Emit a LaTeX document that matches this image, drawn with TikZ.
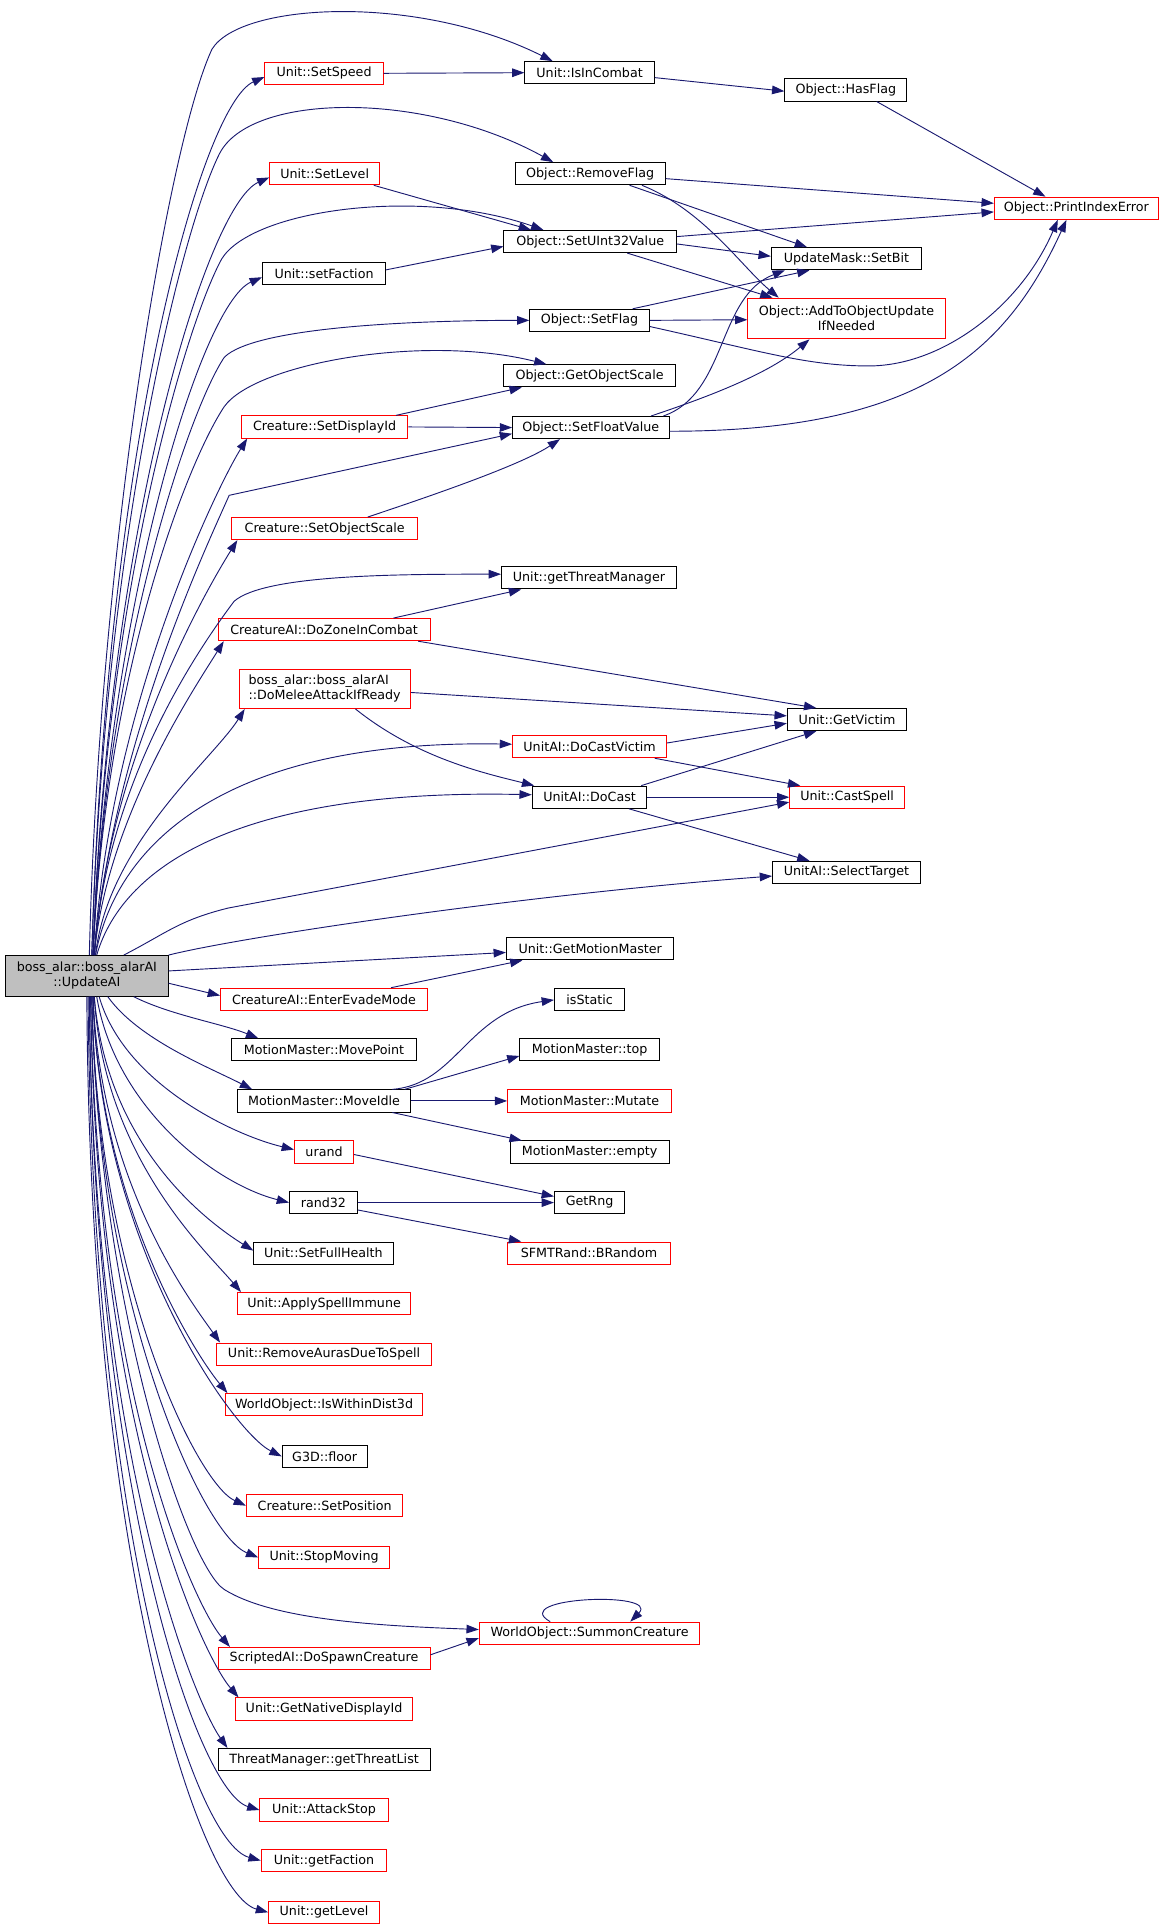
\documentclass[tikz,border=0pt]{standalone}
\usepackage{fontspec}
\setmainfont{DejaVu Sans}
\usetikzlibrary{arrows.meta}
\definecolor{edgeblue}{HTML}{191970}
\definecolor{undocred}{HTML}{FF0000}
\definecolor{focusgray}{HTML}{BFBFBF}

\begin{document}
\begin{tikzpicture}[x=1pt, y=1pt,
  func/.style={rectangle, draw=black, line width=0.8pt, minimum height=18pt, inner xsep=2pt, inner ysep=2pt, font=\fontsize{10.3}{12}\selectfont},
  undoc/.style={func, draw=undocred},
  focus/.style={func, fill=focusgray, align=center},
  arrow/.style={-{Triangle[length=10pt, width=7pt]}, draw=edgeblue, line width=0.75pt}
]
  \useasboundingbox (0,0) rectangle (944.7,-1568);

  % Caller
  \node[focus, minimum width=132pt, minimum height=33pt] (updateai) at (70.5,-792) {boss\_alar::boss\_alarAI\\::UpdateAI};

  % Direct callees
  \node[undoc, minimum width=96pt] (setspeed) at (263,-59.5) {Unit::SetSpeed};
  \node[undoc, minimum width=89pt] (setlevel) at (263.5,-141) {Unit::SetLevel};
  \node[func, minimum width=100pt] (setfaction) at (263,-222) {Unit::setFaction};
  \node[undoc, minimum width=135pt] (setdisplayid) at (263.5,-346.5) {Creature::SetDisplayId};
  \node[undoc, minimum width=151pt] (setobjscale) at (263.5,-429) {Creature::SetObjectScale};
  \node[undoc, minimum width=172pt] (dozone) at (263,-511) {CreatureAI::DoZoneInCombat};
  \node[undoc, minimum width=139pt, minimum height=32pt, align=left] (domelee) at (263.5,-559) {boss\_alar::boss\_alarAI\\::DoMeleeAttackIfReady};
  \node[undoc, minimum width=168pt] (evade) at (263,-811) {CreatureAI::EnterEvadeMode};
  \node[func, minimum width=150pt] (movepoint) at (263,-852) {MotionMaster::MovePoint};
  \node[func, minimum width=140pt] (moveidle) at (263,-893.5) {MotionMaster::MoveIdle};
  \node[undoc, minimum width=48pt] (urand) at (263,-935) {urand};
  \node[func, minimum width=55pt] (rand32) at (262.5,-976) {rand32};
  \node[func, minimum width=113pt] (setfullhealth) at (262.5,-1017) {Unit::SetFullHealth};
  \node[undoc, minimum width=140pt] (applyspell) at (263,-1058) {Unit::ApplySpellImmune};
  \node[undoc, minimum width=174pt] (removeauras) at (263,-1099) {Unit::RemoveAurasDueToSpell};
  \node[undoc, minimum width=160pt] (within3d) at (263,-1140) {WorldObject::IsWithinDist3d};
  \node[func, minimum width=69pt] (g3dfloor) at (263.5,-1182) {G3D::floor};
  \node[undoc, minimum width=127pt] (setposition) at (263.5,-1222) {Creature::SetPosition};
  \node[undoc, minimum width=106pt] (stopmoving) at (263,-1264) {Unit::StopMoving};
  \node[undoc, minimum width=172pt] (dospawn) at (263,-1346) {ScriptedAI::DoSpawnCreature};
  \node[undoc, minimum width=144pt] (nativedisp) at (263,-1387) {Unit::GetNativeDisplayId};
  \node[func, minimum width=172pt] (threatlist) at (263,-1428) {ThreatManager::getThreatList};
  \node[undoc, minimum width=104pt] (attackstop) at (263,-1469) {Unit::AttackStop};
  \node[undoc, minimum width=102pt] (getfaction) at (263,-1510) {Unit::getFaction};
  \node[undoc, minimum width=90pt] (getlevel) at (263,-1552) {Unit::getLevel};

  % Second level
  \node[func, minimum width=105pt] (isincombat) at (478.5,-59) {Unit::IsInCombat};
  \node[func, minimum width=122pt] (removeflag) at (479,-141) {Object::RemoveFlag};
  \node[func, minimum width=140pt] (setuint) at (479,-196) {Object::SetUInt32Value};
  \node[func, minimum width=97pt] (setflag) at (478.5,-260) {Object::SetFlag};
  \node[func, minimum width=139pt] (getobjscale) at (478.5,-305) {Object::GetObjectScale};
  \node[func, minimum width=127pt] (setfloat) at (479.5,-347) {Object::SetFloatValue};
  \node[func, minimum width=142pt] (getthreatmgr) at (478,-469) {Unit::getThreatManager};
  \node[undoc, minimum width=125pt] (docastvictim) at (478.5,-606) {UnitAI::DoCastVictim};
  \node[func, minimum width=93pt] (docast) at (478.5,-647) {UnitAI::DoCast};
  \node[func, minimum width=136pt] (getmotion) at (479,-770) {Unit::GetMotionMaster};
  \node[func, minimum width=57pt] (isstatic) at (478.5,-811.5) {isStatic};
  \node[func, minimum width=113pt] (mmtop) at (478.5,-852) {MotionMaster::top};
  \node[undoc, minimum width=133pt] (mutate) at (478.5,-893.5) {MotionMaster::Mutate};
  \node[func, minimum width=129pt] (mmempty) at (478.5,-935) {MotionMaster::empty};
  \node[func, minimum width=57pt] (getrng) at (478.5,-976) {GetRng};
  \node[undoc, minimum width=132pt] (brandom) at (478,-1017) {SFMTRand::BRandom};
  \node[undoc, minimum width=179pt] (summon) at (478.5,-1325.5) {WorldObject::SummonCreature};

  % Third level
  \node[func, minimum width=99pt] (hasflag) at (686.5,-73) {Object::HasFlag};
  \node[func, minimum width=122pt] (setbit) at (687,-210) {UpdateMask::SetBit};
  \node[undoc, minimum width=160pt, minimum height=33pt, align=center] (addtoobj) at (687,-258.5) {Object::AddToObjectUpdate\\IfNeeded};
  \node[func, minimum width=97pt] (getvictim) at (687.5,-584) {Unit::GetVictim};
  \node[undoc, minimum width=93pt] (castspell) at (687.5,-647) {Unit::CastSpell};
  \node[func, minimum width=120pt] (selecttarget) at (687,-708) {UnitAI::SelectTarget};
  \node[undoc, minimum width=133pt] (printidx) at (873.5,-169) {Object::PrintIndexError};

  % Calls from UpdateAI, upwards
  \draw[arrow] ([xshift=2pt]updateai.north) .. controls +(8,330) and +(-35,-75) .. (172,-40) .. controls +(23,38) and +(-110,55) .. ([xshift=-30pt]isincombat.north);
  \draw[arrow] ([xshift=4pt]updateai.north) .. controls +(12,420) and +(-50,-22) .. ([yshift=-3pt]setspeed.west);
  \draw[arrow] ([xshift=4pt]updateai.north) .. controls +(10,340) and +(-30,-60) .. (178,-125) .. controls +(25,50) and +(-105,58) .. ([xshift=-30pt]removeflag.north);
  \draw[arrow] ([xshift=5pt]updateai.north) .. controls +(12,350) and +(-50,-22) .. ([yshift=-3pt]setlevel.west);
  \draw[arrow] ([xshift=5pt]updateai.north) .. controls +(10,290) and +(-30,-55) .. (180,-210) .. controls +(25,40) and +(-100,35) .. ([xshift=-38pt]setuint.north);
  \draw[arrow] ([xshift=5pt]updateai.north) .. controls +(12,280) and +(-50,-22) .. ([yshift=-3pt]setfaction.west);
  \draw[arrow] ([xshift=5pt]updateai.north) .. controls +(10,240) and +(-30,-45) .. (182,-290) .. controls +(25,25) and +(-90,0) .. (setflag.west);
  \draw[arrow] ([xshift=5pt]updateai.north) .. controls +(10,230) and +(-30,-45) .. (182,-330) .. controls +(25,35) and +(-100,25) .. ([xshift=-35pt]getobjscale.north);
  \draw[arrow] ([xshift=6pt]updateai.north) .. controls +(12,200) and +(-25,-40) .. ([xshift=5pt]setdisplayid.south west);
  \draw[arrow] ([xshift=6pt]updateai.north) .. controls +(15,170) and +(-20,-45) .. (186,-402) -- ([yshift=-5pt]setfloat.west);
  \draw[arrow] ([xshift=6pt]updateai.north) .. controls +(12,160) and +(-25,-40) .. ([xshift=5pt]setobjscale.south west);
  \draw[arrow] ([xshift=6pt]updateai.north) .. controls +(10,140) and +(-30,-40) .. (190,-488) .. controls +(25,22) and +(-80,0) .. ([yshift=3pt]getthreatmgr.west);
  \draw[arrow] ([xshift=6pt]updateai.north) .. controls +(10,110) and +(-25,-40) .. ([xshift=5pt]dozone.south west);
  \draw[arrow] ([xshift=7pt]updateai.north) .. controls +(10,90) and +(-25,-40) .. ([xshift=5pt]domelee.south west);
  \draw[arrow] ([xshift=7pt]updateai.north) .. controls +(18,95) and +(-226,4) .. ([yshift=2pt]docastvictim.west);
  \draw[arrow] ([xshift=8pt]updateai.north) .. controls +(22,75) and +(-232,5) .. ([yshift=2pt]docast.west);
  \draw[arrow] ([xshift=30pt]updateai.north) .. controls +(35,18) and +(-40,-10) .. (185,-737) -- ([yshift=-4pt]castspell.west);
  \draw[arrow] (updateai.north east) .. controls +(60,15) and +(-200,-15) .. ([yshift=-3pt]selecttarget.west);
  \draw[arrow] ([yshift=4pt]updateai.east) -- ([yshift=-3pt]getmotion.west);
  \draw[arrow] ([yshift=-6pt]updateai.east) -- ([yshift=3pt]evade.west);

  % Calls from UpdateAI, downwards
  \draw[arrow] ([xshift=38pt]updateai.south) .. controls +(30,-15) and +(-30,12) .. ([xshift=22pt]movepoint.north west);
  \draw[arrow] ([xshift=17pt]updateai.south) .. controls +(25,-35) and +(-35,18) .. ([xshift=12pt]moveidle.north west);
  \draw[arrow] ([xshift=10pt]updateai.south) .. controls +(20,-70) and +(-50,12) .. ([yshift=2pt]urand.west);
  \draw[arrow] ([xshift=8pt]updateai.south) .. controls +(15,-90) and +(-60,15) .. (rand32.west);
  \draw[arrow] ([xshift=6pt]updateai.south) .. controls +(10,-120) and +(-40,25) .. ([yshift=2pt]setfullhealth.west);
  \draw[arrow] ([xshift=6pt]updateai.south) .. controls +(8,-130) and +(-30,35) .. ([xshift=3pt]applyspell.north west);
  \draw[arrow] ([xshift=5pt]updateai.south) .. controls +(6,-150) and +(-25,35) .. ([xshift=3pt]removeauras.north west);
  \draw[arrow] ([xshift=5pt]updateai.south) .. controls +(5,-170) and +(-25,30) .. ([xshift=2pt]within3d.north west);
  \draw[arrow] ([xshift=5pt]updateai.south) .. controls +(5,-200) and +(-40,20) .. (g3dfloor.west);
  \draw[arrow] ([xshift=4pt]updateai.south) .. controls +(4,-230) and +(-40,18) .. (setposition.west);
  \draw[arrow] ([xshift=4pt]updateai.south) .. controls +(4,-250) and +(-45,18) .. (stopmoving.west);
  \draw[arrow] ([xshift=4pt]updateai.south) .. controls +(5,-250) and +(-30,19) .. (182,-1290) .. controls +(40,-25) and +(-80,3) .. ([yshift=3pt]summon.west);
  \draw[arrow] ([xshift=3pt]updateai.south) .. controls +(5,-320) and +(-30,35) .. ([xshift=10pt]dospawn.north west);
  \draw[arrow] ([xshift=3pt]updateai.south) .. controls +(4,-350) and +(-30,35) .. ([xshift=3pt]nativedisp.north west);
  \draw[arrow] ([xshift=2pt]updateai.south) .. controls +(3,-380) and +(-25,35) .. ([xshift=8pt]threatlist.north west);
  \draw[arrow] ([xshift=2pt]updateai.south) .. controls +(3,-400) and +(-50,15) .. (attackstop.west);
  \draw[arrow] ([xshift=1pt]updateai.south) .. controls +(3,-430) and +(-55,15) .. (getfaction.west);
  \draw[arrow] (updateai.south) .. controls +(2,-460) and +(-55,15) .. (getlevel.west);

  % Deeper calls
  \draw[arrow] (setspeed.east) -- (isincombat.west);
  \draw[arrow] ([yshift=-4pt]isincombat.east) -- ([yshift=-1pt]hasflag.west);
  \draw[arrow] ([xshift=25pt]hasflag.south) -- ([xshift=-25pt]printidx.north);
  \draw[arrow] ([yshift=-4pt]removeflag.east) -- ([yshift=4pt]printidx.west);
  \draw[arrow] ([xshift=32pt]removeflag.south) -- ([xshift=-32pt]setbit.north);
  \draw[arrow] ([xshift=42pt]removeflag.south) .. controls +(50,-20) and +(-30,25) .. ([xshift=-55pt]addtoobj.north);
  \draw[arrow] ([xshift=-5pt]setlevel.south east) -- ([xshift=-48pt]setuint.north);
  \draw[arrow] ([yshift=3pt]setfaction.east) -- ([yshift=-4pt]setuint.west);
  \draw[arrow] ([yshift=4pt]setuint.east) -- ([yshift=-3pt]printidx.west);
  \draw[arrow] ([yshift=-2pt]setuint.east) -- ([yshift=2pt]setbit.west);
  \draw[arrow] ([xshift=30pt]setuint.south) -- ([xshift=-60pt]addtoobj.north);
  \draw[arrow] ([xshift=35pt]setflag.north) -- ([xshift=-30pt]setbit.south);
  \draw[arrow] (setflag.east) -- ([yshift=-1pt]addtoobj.west);
  \draw[arrow] ([yshift=-5pt]setflag.east) .. controls +(90,-20) and +(-50,0) .. (705,-297) .. controls +(60,0) and +(-30,-70) .. ([xshift=-15pt]printidx.south);
  \draw[arrow] ([xshift=-10pt]setdisplayid.north east) -- ([xshift=-55pt]getobjscale.south);
  \draw[arrow] (setdisplayid.east) -- (setfloat.west);
  \draw[arrow] ([xshift=35pt]setobjscale.north) .. controls +(60,20) and +(-30,-20) .. ([xshift=-25pt]setfloat.south);
  \draw[arrow] ([xshift=-5pt]setfloat.north east) .. controls +(52,18) and +(-55,-21) .. ([xshift=-50pt]setbit.south);
  \draw[arrow] ([xshift=-15pt]setfloat.north east) .. controls +(60,20) and +(-30,-25) .. ([xshift=-30pt]addtoobj.south);
  \draw[arrow] ([yshift=-3pt]setfloat.east) .. controls +(200,0) and +(-50,-110) .. ([xshift=-8pt]printidx.south);
  \draw[arrow] ([xshift=-30pt]dozone.north east) -- ([xshift=-55pt]getthreatmgr.south);
  \draw[arrow] ([xshift=-10pt]dozone.south east) -- ([xshift=-25pt]getvictim.north);
  \draw[arrow] ([yshift=-3pt]domelee.east) -- ([yshift=3pt]getvictim.west);
  \draw[arrow] ([xshift=25pt]domelee.south) .. controls +(50,-40) and +(-40,10) .. ([xshift=2pt]docast.north west);
  \draw[arrow] ([yshift=3pt]docastvictim.east) -- ([yshift=-3pt]getvictim.west);
  \draw[arrow] ([xshift=-10pt]docastvictim.south east) -- ([xshift=-38pt]castspell.north);
  \draw[arrow] ([xshift=-5pt]docast.north east) -- ([xshift=-25pt]getvictim.south);
  \draw[arrow] (docast.east) -- (castspell.west);
  \draw[arrow] ([xshift=-15pt]docast.south east) -- ([xshift=-30pt]selecttarget.north);
  \draw[arrow] ([xshift=-30pt]evade.north east) -- ([xshift=-55pt]getmotion.south);
  \draw[arrow] ([xshift=-15pt]moveidle.north east) .. controls +(52,4) and +(-70,-10) .. (isstatic.west);
  \draw[arrow] ([xshift=-5pt]moveidle.north east) -- ([yshift=-5pt]mmtop.west);
  \draw[arrow] (moveidle.east) -- (mutate.west);
  \draw[arrow] ([xshift=-15pt]moveidle.south east) -- ([xshift=-55pt]mmempty.north);
  \draw[arrow] ([yshift=-2pt]urand.east) -- ([yshift=5pt]getrng.west);
  \draw[arrow] (rand32.east) -- (getrng.west);
  \draw[arrow] ([yshift=-6pt]rand32.east) -- ([xshift=-55pt]brandom.north);
  \draw[arrow] ([yshift=3pt]dospawn.east) -- ([yshift=-4pt]summon.west);
  \draw[arrow] ([xshift=-32pt]summon.north) .. controls +(-35,20) and +(25,25) .. ([xshift=33pt]summon.north);
\end{tikzpicture}
\end{document}
